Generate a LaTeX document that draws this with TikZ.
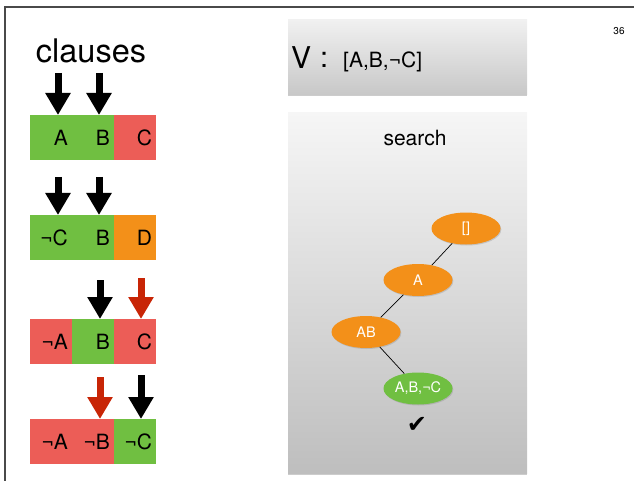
\documentclass[tikz,border=0pt]{standalone}
\usepackage{fontspec}
\setmainfont{TeX Gyre Heros}
\newfontfamily\symfont{DejaVu Sans}
\usetikzlibrary{arrows.meta,positioning,shadows,shapes.geometric}
\definecolor{cTrue}{HTML}{70BF41}
\definecolor{cFalse}{HTML}{EC5D57}
\definecolor{cOpen}{HTML}{F39019}
\definecolor{cConf}{HTML}{C82506}
\definecolor{cFrame}{HTML}{4A4A4A}
\definecolor{cTopHi}{HTML}{F1F1F1}
\definecolor{cTopLo}{HTML}{C8C8C8}
\definecolor{cSrchHi}{HTML}{F6F6F6}
\definecolor{cSrchLo}{HTML}{BEBEBE}
\tikzset{
  lit/.style={rectangle,inner xsep=4pt,inner ysep=0pt,text width=33.67pt,align=right,minimum height=45pt,font=\fontsize{21}{21}\selectfont},
  sat/.style={lit,fill=cTrue},
  unsat/.style={lit,fill=cFalse},
  unset/.style={lit,fill=cOpen},
  watch/.style={-{Triangle[width=24pt,length=22pt]},line width=7pt,black},
  conf/.style={watch,cConf},
  panel/.style={rectangle,inner sep=0pt,anchor=north west,drop shadow={shadow xshift=0pt,shadow yshift=-2pt,opacity=.4}},
  goal/.style={ellipse,inner sep=0pt,minimum width=69pt,minimum height=32pt,text=white,font=\fontsize{14.5}{14.5}\selectfont,drop shadow={shadow xshift=.8pt,shadow yshift=-1pt,opacity=.3}},
  tedge/.style={line width=.7pt,black},
  frame/.style={line width=1.2pt,cFrame},
}

\begin{document}
\begin{tikzpicture}[x=1pt,y=-1pt]
  \useasboundingbox (0,0) rectangle (634,481);
  \draw[frame] (5,481) -- (5,7) -- (634,7);
  \node[font=\fontsize{10}{10}\selectfont] (page) at (619,31) {36};

  % clause list
  \node[anchor=base,font=\fontsize{32.5}{32.5}\selectfont] (cls) at (91,63) {clauses};
  % A B C
  \node[sat,anchor=north west] (r1a) at (30,115) {A};
  \node[sat,right=0pt of r1a] (r1b) {B};
  \node[unsat,right=0pt of r1b] (r1c) {C};
  \coordinate (w1a) at (58,73); \coordinate (w1b) at (99,73);
  \draw[watch] (w1a) -- (w1a |- r1a.north);
  \draw[watch] (w1b) -- (w1b |- r1b.north);
  % -C B D
  \node[sat,anchor=north west] (r2a) at (30,215) {¬C};
  \node[sat,right=0pt of r2a] (r2b) {B};
  \node[unset,right=0pt of r2b] (r2c) {D};
  \coordinate (w2a) at (58,177); \coordinate (w2b) at (99,177);
  \draw[watch] (w2a) -- (w2a |- r2a.north);
  \draw[watch] (w2b) -- (w2b |- r2b.north);
  % -A B C
  \node[unsat,anchor=north west] (r3a) at (30,319) {¬A};
  \node[sat,right=0pt of r3a] (r3b) {B};
  \node[unsat,right=0pt of r3b] (r3c) {C};
  \coordinate (w3b) at (100,280); \coordinate (w3c) at (141,278);
  \draw[watch] (w3b) -- (w3b |- r3b.north);
  \draw[conf] (w3c) -- (w3c |- r3c.north);
  % -A -B -C
  \node[unsat,anchor=north west] (r4a) at (30,419) {¬A};
  \node[unsat,right=0pt of r4a] (r4b) {¬B};
  \node[sat,right=0pt of r4b] (r4c) {¬C};
  \coordinate (w4b) at (100,377); \coordinate (w4c) at (141,375);
  \draw[conf] (w4b) -- (w4b |- r4b.north);
  \draw[watch] (w4c) -- (w4c |- r4c.north);

  % current assignment
  \node[panel,top color=cTopHi,bottom color=cTopLo,minimum width=239pt,minimum height=75pt] (vbox) at (288,19) {};
  \node[anchor=base west,inner sep=0pt,font=\fontsize{30}{30}\selectfont] (vname) at (291,69) {V};
  \node[anchor=base west,inner sep=0pt,font=\fontsize{29}{29}\selectfont] (vcol) at (320,68) {:};
  \node[anchor=base west,inner sep=0pt,font=\fontsize{21}{21}\selectfont] (vval) at (343,68) {[A,B,¬C]};

  % search tree
  \node[panel,top color=cSrchHi,bottom color=cSrchLo,minimum width=239pt,minimum height=361pt] (sbox) at (288,112) {};
  \node[font=\fontsize{21}{21}\selectfont] (stitle) at (415,138) {search};
  \node[goal,fill=cOpen] (n0) at (466,228.5) {[]};
  \node[goal,fill=cOpen] (n1) at (418,280) {A};
  \node[goal,fill=cOpen] (n2) at (366,332) {AB};
  \node[goal,fill=cTrue] (n3) at (418,388.5) {A,B,¬C};
  \draw[tedge] (n0) -- (n1) -- (n2) -- (n3);
  \node[font=\fontsize{24}{24}\symfont] (ok) at (417,425) {✔};
\end{tikzpicture}
\end{document}
